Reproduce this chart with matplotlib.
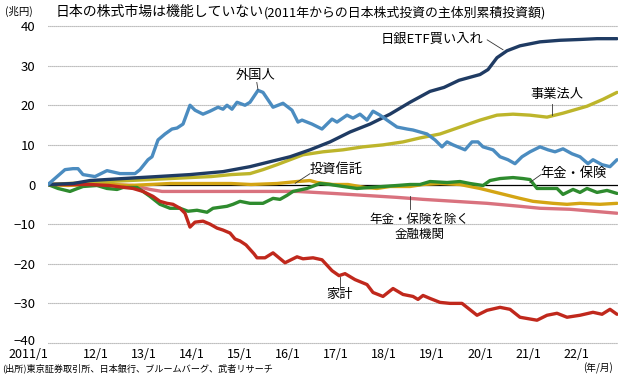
import numpy as np
import matplotlib
matplotlib.use("Agg")
import matplotlib.pyplot as plt
from matplotlib.transforms import ScaledTranslation

# ---------------- data (years since 2011/1, trillion yen) ----------------
t_foreign = [0, 0.354, 0.521, 0.625, 0.729, 0.979, 1.229, 1.5, 1.813, 1.917, 2.083, 2.167,
             2.292, 2.438, 2.583, 2.688, 2.813, 2.958, 3.063, 3.229, 3.375, 3.542, 3.646,
             3.729, 3.833, 3.938, 4.104, 4.208, 4.375, 4.479, 4.688, 4.896, 5.083, 5.208,
             5.292, 5.5, 5.708, 5.917, 6.021, 6.229, 6.354, 6.5, 6.646, 6.771, 6.917, 7.063,
             7.271, 7.479, 7.604, 7.75, 7.896, 8.063, 8.208, 8.313, 8.438, 8.688, 8.833,
             8.958, 9.063, 9.271, 9.417, 9.583, 9.729, 9.875, 10.042, 10.25, 10.417, 10.563,
             10.729, 10.917, 11.083, 11.25, 11.354, 11.542, 11.708, 11.854]
v_foreign = [0, 3.75, 4.0, 4.0, 2.5, 2.0, 3.5, 2.75, 2.75, 3.75, 6.25, 7.0,
             11.25, 12.75, 14.0, 14.25, 15.25, 20.0, 18.75, 17.75, 18.5, 19.5, 19.0,
             20.0, 19.0, 20.75, 20.0, 20.75, 23.75, 23.25, 19.5, 20.5, 18.75, 15.75,
             16.25, 15.25, 14.0, 16.5, 15.75, 17.5, 16.75, 17.75, 16.25, 18.5, 17.5, 16.25,
             14.5, 14.0, 13.75, 13.25, 12.75, 11.25, 9.5, 10.75, 10.0, 8.75, 10.75,
             10.75, 9.5, 8.75, 7.0, 6.25, 5.25, 7.0, 8.25, 9.5, 8.75, 8.25,
             9.0, 7.75, 7.0, 5.25, 6.25, 5.0, 4.5, 6.25]

t_boj = [0, 0.521, 0.875, 1.563, 2.271, 2.958, 3.646, 4.208, 4.625, 5.042, 5.458, 5.875,
         6.292, 6.708, 7.125, 7.542, 7.958, 8.25, 8.563, 9.0, 9.167, 9.354, 9.563, 9.833,
         10.25, 10.667, 11.083, 11.438, 11.854]
v_boj = [0, 0.25, 1.0, 1.5, 2.0, 2.5, 3.25, 4.5, 5.75, 7.0, 8.75, 10.75,
         13.25, 15.25, 17.75, 20.75, 23.5, 24.5, 26.3, 27.75, 29.0, 32.0, 33.75, 35.0,
         36.0, 36.4, 36.6, 36.8, 36.8]

t_corp = [0, 0.417, 0.854, 1.271, 1.688, 2.125, 2.542, 2.958, 3.396, 3.813, 4.208, 4.479,
          4.771, 5.042, 5.313, 5.729, 6.146, 6.563, 6.979, 7.396, 7.75, 8.167, 8.583, 9.0,
          9.354, 9.688, 10.042, 10.396, 10.729, 11.229, 11.563, 11.854]
v_corp = [0, 0.25, 0.5, 0.75, 1.0, 1.25, 1.5, 1.75, 2.0, 2.5, 2.75, 3.75,
          5.0, 6.25, 7.5, 8.25, 8.75, 9.5, 10.0, 10.75, 11.75, 12.75, 14.5, 16.25,
          17.5, 17.75, 17.5, 17.0, 18.0, 19.75, 21.5, 23.25]

t_trust = [0, 0.417, 0.854, 1.271, 1.688, 2.125, 2.542, 2.958, 3.396, 3.813, 4.229, 4.771,
           5.188, 5.458, 5.604, 5.938, 6.25, 6.604, 6.854, 7.125, 7.542, 7.813, 8.167,
           8.583, 9.0, 9.417, 9.833, 10.104, 10.521, 10.813, 11.083, 11.5, 11.854]
v_trust = [0, -0.25, 0, 0, -0.25, 0, 0.25, 0.25, 0.25, 0.25, 0, 0.25,
           0.75, 1.0, 0.5, 0, 0, -0.75, -1.0, -0.5, -0.5, 0, 0.25,
           0, -1.0, -2.25, -3.5, -4.25, -4.75, -5.0, -4.75, -5.0, -4.75]

t_pension = [0, 0.208, 0.458, 0.563, 0.729, 1.021, 1.229, 1.438, 1.563, 1.854, 1.979, 2.125,
             2.333, 2.542, 2.75, 2.917, 3.104, 3.313, 3.438, 3.729, 3.854, 4.0, 4.208, 4.479,
             4.688, 4.833, 4.979, 5.104, 5.396, 5.667, 5.875, 6.146, 6.438, 6.708, 6.979,
             7.271, 7.542, 7.75, 7.958, 8.313, 8.583, 8.792, 9.063, 9.208, 9.417, 9.688,
             9.896, 10.042, 10.188, 10.396, 10.604, 10.729, 10.938, 11.083, 11.229, 11.438,
             11.646, 11.854]
v_pension = [0, -1.0, -1.75, -1.25, -0.5, -0.25, -1.0, -1.25, -0.75, -0.75, -1.75, -3.0,
             -5.0, -6.0, -6.0, -6.75, -6.5, -7.0, -6.0, -5.5, -5.0, -4.25, -4.75, -4.75,
             -3.5, -3.75, -2.75, -1.75, -1.0, 0.25, 0, -0.5, -1.0, -0.75, -0.5,
             -0.25, 0, 0, 0.75, 0.5, 0.75, 0.25, -0.25, 1.0, 1.5, 1.75,
             1.5, 1.25, -1.0, -1.0, -1.0, -2.5, -1.25, -2.0, -1.0, -2.0,
             -1.5, -2.25]

t_fin = [0, 0.875, 1.271, 1.771, 2.125, 2.375, 2.646, 4.0, 5.188, 5.938, 6.604, 7.271,
         7.813, 8.479, 9.146, 9.833, 10.25, 10.875, 11.854]
v_fin = [0, 0, 0, -0.25, -1.25, -1.75, -1.75, -1.75, -1.75, -2.25, -2.75, -3.25,
         -3.75, -4.25, -4.75, -5.5, -6.0, -6.25, -7.25]

t_house = [0, 0.875, 1.271, 1.771, 1.979, 2.188, 2.333, 2.479, 2.604, 2.75, 2.854, 2.958,
           3.063, 3.229, 3.375, 3.521, 3.646, 3.792, 3.896, 4.0, 4.125, 4.292, 4.354, 4.521,
           4.688, 4.938, 5.188, 5.313, 5.521, 5.708, 5.917, 6.063, 6.188, 6.396, 6.646,
           6.771, 6.979, 7.188, 7.396, 7.604, 7.708, 7.813, 7.958, 8.167, 8.375, 8.625,
           8.938, 9.146, 9.417, 9.625, 9.833, 10.188, 10.396, 10.604, 10.813, 11.083,
           11.354, 11.542, 11.708, 11.854]
v_house = [0, 0, -0.25, -1.0, -1.75, -3.0, -4.25, -4.75, -5.0, -6.0, -7.25, -10.75,
           -9.5, -9.25, -10.0, -11.0, -11.5, -12.25, -13.75, -14.25, -15.25, -17.5, -18.5, -18.5,
           -17.25, -19.75, -18.25, -18.75, -18.5, -19.0, -21.75, -23.0, -22.5, -24.0, -25.25,
           -27.25, -28.25, -26.25, -27.75, -28.25, -29.0, -28.0, -28.75, -29.75, -30.0, -30.0,
           -33.0, -31.75, -31.0, -31.5, -33.5, -34.25, -33.0, -32.5, -33.5, -33.0,
           -32.25, -32.75, -31.5, -32.75]

year_ticks = [2011, 2012, 2013, 2014, 2015, 2016, 2017, 2018, 2019, 2020, 2021, 2022]
year_labels = ["2011/1", "12/1", "13/1", "14/1", "15/1", "16/1", "17/1", "18/1",
               "19/1", "20/1", "21/1", "22/1"]
y_ticks = [40, 30, 20, 10, 0, -10, -20, -30, -40]

# ---------------- fonts ----------------
JP = "Noto Sans CJK JP"
plt.rcParams["font.family"] = [JP, "DejaVu Sans"]
plt.rcParams["axes.unicode_minus"] = True

fig = plt.figure(figsize=(6.2, 3.76), dpi=100)
ax = fig.add_axes([48 / 620, 1 - 343 / 376, 570 / 620, 317 / 376])
ax.set_xlim(2011, 2022.875)
ax.set_ylim(-40, 40)
for s in ax.spines.values():
    s.set_visible(False)

for v in y_ticks:
    if v == 0:
        ax.axhline(0, color="black", lw=0.9, zorder=1.5)
    else:
        ax.axhline(v, color="#808080", lw=0.8, ls=(0, (0.8, 1.0)), zorder=1, clip_on=False)

series = [
    (t_fin, v_fin, "#d9727e", 2),
    (t_trust, v_trust, "#d4a514", 3),
    (t_corp, v_corp, "#bdb52b", 4),
    (t_pension, v_pension, "#2e8b2e", 5),
    (t_house, v_house, "#c0281c", 6),
    (t_boj, v_boj, "#1f3b63", 7),
    (t_foreign, v_foreign, "#4b8cc0", 8),
]
for t, v, c, z in series:
    ax.plot(2011 + np.array(t), v, color=c, lw=2.4, zorder=z, solid_joinstyle="round",
            solid_capstyle="round")

ax.set_xticks(year_ticks)
ax.set_xticklabels(year_labels, fontsize=9)
ax.get_xticklabels()[0].set_horizontalalignment("right")
ax.set_yticks(y_ticks)
ax.set_yticklabels([f"{v}".replace("-", "\u2212") for v in y_ticks], fontsize=9.5)
ax.tick_params(axis="both", length=0)
ax.tick_params(axis="x", pad=3.5)
ax.tick_params(axis="y", pad=9)
last = ax.get_yticklabels()[-1]
last.set_transform(last.get_transform() + ScaledTranslation(0, 2.5 / 72, fig.dpi_scale_trans))

# annotations
lab_fs = 9.5
def label(txt, x, y, line=None, **kw):
    ax.text(2011 + x, y, txt, fontsize=kw.pop("fs", lab_fs), ha="center", va="center",
            zorder=10, linespacing=1.15, **kw)
    if line is not None:
        (x0, y0), (x1, y1) = line
        ax.plot([2011 + x0, 2011 + x1], [y0, y1], color="#333333", lw=0.6, zorder=9)

label("外国人", 4.33, 27.5, ((4.35, 25.75), (4.375, 23.9)))
label("日銀ETF買い入れ", 8.0, 36.5, ((9.15, 36.5), (9.48, 34.0)))
label("事業法人", 10.6, 22.75, ((10.5, 20.25), (10.5, 17.5)))
label("投資信託", 6.0, 3.75, ((5.46, 2.75), (5.15, 0.3)))
label("年金・保険", 10.94, 2.75, ((10.27, 2.5), (10.04, 0.5)))
label("年金・保険を除く\n金融機関", 7.73, -10.7, ((7.54, -3.0), (7.54, -6.25)), fs=9)
label("家計", 6.08, -27.75, ((6.08, -23.25), (6.08, -26.0)))

# titles & notes
fig.text(5 / 620, 1 - 11 / 376, "(兆円)", fontsize=7.5, va="center", ha="left")
fig.text(56 / 620, 1 - 12 / 376, "日本の株式市場は機能していない", fontsize=10, va="center", ha="left")
fig.text(264 / 620, 1 - 13 / 376, "(2011年からの日本株式投資の主体別累積投資額)", fontsize=9.3,
         va="center", ha="left")
fig.text(2 / 620, 1 - 368 / 376, "(出所)東京証券取引所、日本銀行、ブルームバーグ、武者リサーチ",
         fontsize=6.6, va="center", ha="left")
fig.text(613 / 620, 1 - 368 / 376, "(年/月)", fontsize=7, va="center", ha="right")

fig.savefig("out.png", dpi=100)
